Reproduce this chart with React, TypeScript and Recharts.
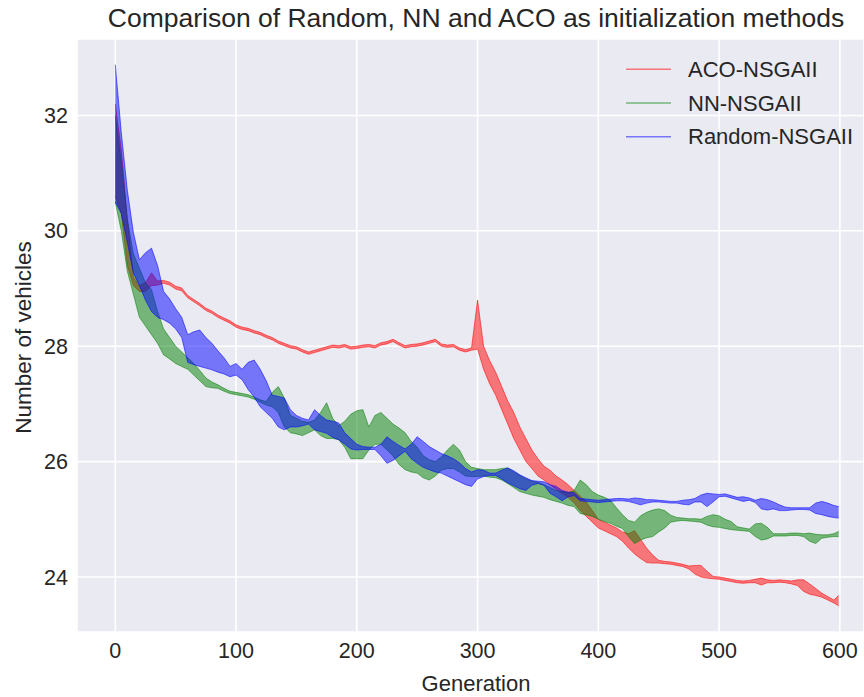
import { ComposedChart, Area, XAxis, YAxis, CartesianGrid } from "recharts";

const generations = [
  0, 5, 10, 15, 20, 25, 30, 35, 40, 45,
  50, 55, 60, 65, 70, 75, 80, 85, 90, 95,
  100, 105, 110, 115, 120, 125, 130, 135, 140, 145,
  150, 155, 160, 165, 170, 175, 180, 185, 190, 195,
  200, 205, 210, 215, 220, 225, 230, 235, 240, 245,
  250, 255, 260, 265, 270, 275, 280, 285, 290, 295,
  300, 305, 310, 315, 320, 325, 330, 335, 340, 345,
  350, 355, 360, 365, 370, 375, 380, 385, 390, 395,
  400, 405, 410, 415, 420, 425, 430, 435, 440, 445,
  450, 455, 460, 465, 470, 475, 480, 485, 490, 495,
  500, 505, 510, 515, 520, 525, 530, 535, 540, 545,
  550, 555, 560, 565, 570, 575, 580, 585, 590, 595,
  599,
];

// [low, high] of the oscillating curve at each generation
const acoRange = [
  [30.6, 32.2], [30.3, 31.4], [29.4, 30.2], [29.05, 29.2], [28.95, 29.05], [28.95, 29.1], [29.05, 29.27], [29.06, 29.13], [29.09, 29.14], [29.06, 29.11],
  [28.99, 29.04], [28.96, 29.01], [28.84, 28.88], [28.77, 28.81], [28.7, 28.74], [28.62, 28.66], [28.57, 28.61], [28.5, 28.54], [28.45, 28.49], [28.4, 28.44],
  [28.33, 28.37], [28.29, 28.33], [28.27, 28.31], [28.23, 28.27], [28.2, 28.24], [28.15, 28.19], [28.11, 28.15], [28.05, 28.09], [28.01, 28.05], [27.97, 28.01],
  [27.95, 27.99], [27.9, 27.94], [27.86, 27.9], [27.89, 27.93], [27.92, 27.96], [27.95, 27.99], [27.98, 28.02], [27.97, 28.01], [27.99, 28.03], [27.95, 27.99],
  [27.96, 28.0], [27.98, 28.02], [27.99, 28.03], [27.97, 28.01], [28.02, 28.06], [28.04, 28.08], [28.08, 28.12], [28.02, 28.06], [27.97, 28.01], [27.99, 28.03],
  [28.0, 28.04], [28.02, 28.06], [28.05, 28.09], [28.08, 28.12], [28.0, 28.04], [27.98, 28.02], [27.99, 28.03], [27.93, 27.97], [27.9, 27.94], [27.93, 27.97],
  [27.95, 28.8], [27.6, 28.0], [27.35, 27.75], [27.15, 27.55], [26.9, 27.3], [26.65, 27.05], [26.4, 26.85], [26.2, 26.6], [26.0, 26.4], [25.88, 26.2],
  [25.75, 26.05], [25.68, 25.92], [25.6, 25.85], [25.52, 25.75], [25.45, 25.68], [25.38, 25.6], [25.28, 25.5], [25.15, 25.4], [25.05, 25.3], [24.95, 25.15],
  [24.85, 25.0], [24.8, 24.95], [24.75, 24.9], [24.7, 24.85], [24.62, 24.78], [24.5, 24.75], [24.4, 24.8], [24.32, 24.65], [24.25, 24.5], [24.24, 24.38],
  [24.24, 24.29], [24.23, 24.27], [24.22, 24.26], [24.2, 24.24], [24.18, 24.22], [24.14, 24.19], [24.05, 24.2], [24.0, 24.2], [23.98, 24.1], [23.97, 24.01],
  [23.96, 24.0], [23.94, 23.98], [23.92, 23.96], [23.9, 23.94], [23.89, 23.93], [23.9, 23.94], [23.9, 23.96], [23.86, 23.98], [23.9, 23.95], [23.9, 23.94],
  [23.91, 23.95], [23.9, 23.94], [23.88, 23.93], [23.85, 23.95], [23.75, 23.95], [23.7, 23.88], [23.68, 23.8], [23.65, 23.72], [23.6, 23.66], [23.55, 23.6],
  [23.5, 23.68],
];

const nnRange = [
  [30.5, 32.0], [30.0, 31.2], [29.3, 30.2], [28.9, 29.6], [28.5, 29.35], [28.35, 29.1], [28.2, 28.98], [28.05, 28.6], [27.85, 28.3], [27.78, 28.15],
  [27.7, 28.0], [27.65, 27.9], [27.6, 27.8], [27.5, 27.7], [27.4, 27.58], [27.3, 27.45], [27.28, 27.38], [27.27, 27.33], [27.22, 27.27], [27.18, 27.22],
  [27.16, 27.2], [27.14, 27.18], [27.12, 27.16], [27.08, 27.12], [27.03, 27.07], [26.98, 27.04], [26.95, 27.2], [26.85, 27.3], [26.6, 27.1], [26.5, 26.8],
  [26.48, 26.75], [26.45, 26.7], [26.5, 26.68], [26.55, 26.72], [26.45, 26.85], [26.4, 27.02], [26.4, 26.75], [26.38, 26.62], [26.25, 26.7], [26.05, 26.82],
  [26.05, 26.88], [26.05, 26.9], [26.2, 26.6], [26.3, 26.8], [26.3, 26.85], [26.2, 26.75], [26.1, 26.65], [25.95, 26.58], [25.86, 26.5], [25.82, 26.35],
  [25.8, 26.25], [25.72, 26.1], [25.68, 26.03], [25.75, 26.0], [25.85, 26.08], [25.88, 26.2], [25.88, 26.3], [25.82, 26.2], [25.75, 26.0], [25.74, 25.9],
  [25.74, 25.88], [25.75, 25.86], [25.73, 25.86], [25.72, 25.86], [25.68, 25.88], [25.62, 25.89], [25.55, 25.82], [25.48, 25.76], [25.45, 25.7], [25.42, 25.66],
  [25.4, 25.64], [25.38, 25.6], [25.34, 25.55], [25.31, 25.5], [25.28, 25.48], [25.24, 25.46], [25.22, 25.5], [25.1, 25.68], [25.08, 25.6], [25.05, 25.48],
  [25.0, 25.42], [24.96, 25.38], [24.93, 25.33], [24.88, 25.2], [24.84, 25.08], [24.7, 24.98], [24.58, 24.95], [24.64, 25.06], [24.68, 25.12], [24.7, 25.16],
  [24.78, 25.18], [24.85, 25.15], [24.95, 25.07], [24.97, 25.03], [24.98, 25.02], [24.97, 25.01], [24.96, 25.01], [24.95, 25.0], [24.9, 25.05], [24.87, 25.08],
  [24.86, 25.06], [24.84, 25.0], [24.82, 24.96], [24.81, 24.87], [24.8, 24.85], [24.79, 24.83], [24.7, 24.92], [24.64, 24.93], [24.66, 24.86], [24.71, 24.75],
  [24.71, 24.75], [24.71, 24.75], [24.72, 24.76], [24.72, 24.76], [24.7, 24.75], [24.62, 24.76], [24.58, 24.74], [24.67, 24.73], [24.69, 24.73], [24.7, 24.75],
  [24.7, 24.79],
];

const randomRange = [
  [30.5, 32.88], [30.3, 31.7], [29.8, 30.7], [29.27, 29.97], [29.05, 29.5], [28.8, 29.62], [28.6, 29.7], [28.5, 29.4], [28.46, 28.95], [28.4, 28.82],
  [28.3, 28.65], [28.15, 28.5], [27.72, 28.2], [27.68, 28.25], [27.65, 28.28], [27.62, 28.15], [27.59, 28.05], [27.55, 27.92], [27.52, 27.8], [27.47, 27.65],
  [27.5, 27.7], [27.42, 27.6], [27.25, 27.72], [27.12, 27.76], [26.95, 27.6], [26.85, 27.4], [26.75, 27.15], [26.6, 27.13], [26.55, 27.1], [26.6, 26.9],
  [26.6, 26.8], [26.62, 26.75], [26.65, 26.72], [26.55, 26.9], [26.52, 26.8], [26.49, 26.72], [26.42, 26.7], [26.38, 26.67], [26.3, 26.5], [26.22, 26.4],
  [26.2, 26.3], [26.21, 26.26], [26.21, 26.25], [26.21, 26.25], [26.1, 26.3], [25.97, 26.43], [26.02, 26.35], [26.1, 26.28], [26.18, 26.22], [26.05, 26.3],
  [25.97, 26.43], [25.9, 26.35], [25.86, 26.26], [25.82, 26.2], [25.8, 26.14], [25.75, 26.1], [25.7, 26.05], [25.65, 25.98], [25.6, 25.88], [25.57, 25.82],
  [25.7, 25.86], [25.74, 25.85], [25.76, 25.8], [25.76, 25.8], [25.7, 25.85], [25.63, 25.89], [25.58, 25.84], [25.53, 25.77], [25.5, 25.72], [25.59, 25.67],
  [25.62, 25.66], [25.59, 25.65], [25.45, 25.6], [25.39, 25.57], [25.32, 25.5], [25.39, 25.47], [25.41, 25.46], [25.32, 25.36], [25.31, 25.35], [25.3, 25.34],
  [25.29, 25.33], [25.3, 25.34], [25.31, 25.35], [25.32, 25.36], [25.32, 25.36], [25.31, 25.35], [25.28, 25.37], [25.25, 25.36], [25.28, 25.34], [25.3, 25.34],
  [25.3, 25.33], [25.29, 25.32], [25.28, 25.31], [25.28, 25.31], [25.26, 25.33], [25.25, 25.34], [25.3, 25.36], [25.3, 25.42], [25.22, 25.45], [25.3, 25.44],
  [25.39, 25.43], [25.4, 25.44], [25.37, 25.41], [25.34, 25.38], [25.31, 25.39], [25.33, 25.37], [25.29, 25.33], [25.18, 25.36], [25.16, 25.34], [25.18, 25.3],
  [25.15, 25.25], [25.15, 25.21], [25.16, 25.2], [25.17, 25.2], [25.17, 25.2], [25.16, 25.2], [25.1, 25.28], [25.08, 25.31], [25.05, 25.28], [25.03, 25.24],
  [25.02, 25.22],
];

const seriesNames = ["ACO-NSGAII", "NN-NSGAII", "Random-NSGAII"];
const seriesKeys = ["aco", "nn", "random"];
const seriesColors = ["#ff0000", "#008000", "#0000ff"];

const xTicks = [0, 100, 200, 300, 400, 500, 600];
const yTicks = [24, 26, 28, 30, 32];

const FONT = '"Liberation Sans", Arial, sans-serif';
const TEXT = "#262626";

const data = generations.map((gen, i) => ({
  gen,
  aco: acoRange[i],
  nn: nnRange[i],
  random: randomRange[i],
}));

export default function App() {
  const tickStyle = { fill: TEXT, fontSize: 21.5, fontFamily: FONT };
  return (
    <div style={{ position: "absolute", left: 0, top: 0, width: 864, height: 697, background: "#fff" }}>
      <ComposedChart width={864} height={697} data={data} margin={{ top: 39, right: 0, bottom: 0, left: 0 }}>
        <CartesianGrid fill="#EAEAF2" stroke="#ffffff" strokeWidth={1.6} />
        <XAxis
          type="number"
          dataKey="gen"
          domain={[-31.7, 620]}
          ticks={xTicks}
          interval={0}
          allowDataOverflow
          axisLine={false}
          tickLine={false}
          tickSize={0}
          tickMargin={11}
          height={65}
          tick={tickStyle}
        />
        <YAxis
          type="number"
          domain={[23.046, 33.325]}
          ticks={yTicks}
          interval={0}
          allowDataOverflow
          axisLine={false}
          tickLine={false}
          tickSize={0}
          tickMargin={9}
          width={77}
          tick={tickStyle}
        />
        {seriesKeys.map((key, i) => (
          <Area
            key={key}
            type="linear"
            dataKey={key}
            name={seriesNames[i]}
            stroke={seriesColors[i]}
            strokeOpacity={0.55}
            strokeWidth={1}
            fill={seriesColors[i]}
            fillOpacity={0.5}
            dot={false}
            activeDot={false}
            isAnimationActive={false}
          />
        ))}
      </ComposedChart>
      <svg
        width={864}
        height={697}
        style={{ position: "absolute", left: 0, top: 0, pointerEvents: "none" }}
        fontFamily={FONT}
        fill={TEXT}
      >
        <text x={476} y={27} fontSize={26.5} textAnchor="middle">
          Comparison of Random, NN and ACO as initialization methods
        </text>
        <text x={476} y={691} fontSize={22} textAnchor="middle">
          Generation
        </text>
        <text x={0} y={0} fontSize={22.5} textAnchor="middle" transform="translate(31,337.5) rotate(-90)">
          Number of vehicles
        </text>
        {seriesNames.map((name, i) => {
          const y = 69.3 + i * 33.7;
          return (
            <g key={name}>
              <line x1={626} x2={671} y1={y} y2={y} stroke={seriesColors[i]} strokeOpacity={0.5} strokeWidth={1.5} />
              <text x={688} y={y + 7.5} fontSize={22}>
                {name}
              </text>
            </g>
          );
        })}
      </svg>
    </div>
  );
}
